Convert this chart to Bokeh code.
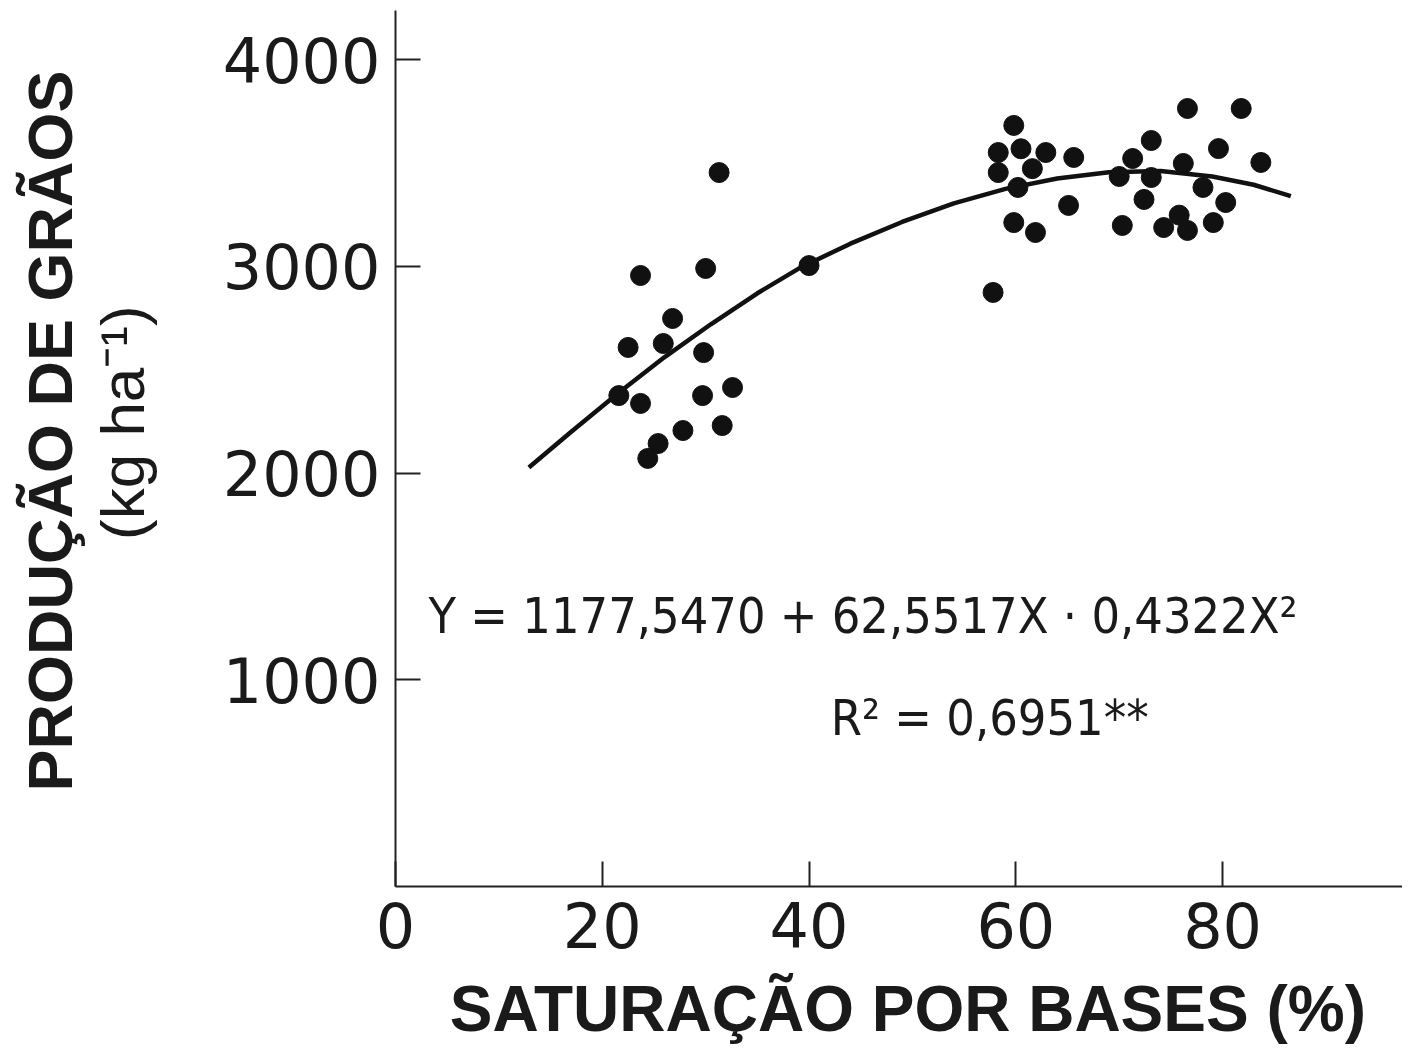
from bokeh.plotting import figure
from bokeh.models import Range1d, FixedTicker, LinearAxis, Label
from bokeh.embed import file_html
from bokeh.resources import INLINE

# ---- data ----
sat_pts = [31.3, 23.7, 30.0, 26.8, 22.5, 25.9, 29.8, 21.6, 23.7, 29.7, 32.6, 27.8, 31.6, 25.4, 24.4, 40.0,
           59.8, 58.3, 60.5, 62.9, 65.6, 58.3, 61.6, 60.2, 65.1, 59.8, 61.9, 57.8, 70.0, 70.3, 71.3,
           73.1, 73.1, 76.6, 81.8, 79.6, 76.2, 83.7, 72.4, 75.8, 78.1, 74.3, 76.6, 79.1, 80.3]
yield_pts = [3454, 2956, 2990, 2748, 2608, 2627, 2583, 2375, 2337, 2375, 2414, 2206, 2230, 2143, 2071, 3004,
             3682, 3551, 3569, 3551, 3527, 3454, 3473, 3382, 3295, 3212, 3164, 2874, 3435, 3198, 3522,
             3609, 3430, 3764, 3764, 3570, 3498, 3503, 3324, 3248, 3382, 3188, 3174, 3212, 3309]

curve_x = [12.9, 17.0, 21.5, 26.0, 30.5, 35.0, 39.2, 44.0, 49.0, 54.0, 59.0, 64.0, 69.0, 74.0, 79.0, 83.0, 86.6]
curve_y = [2027, 2200, 2385, 2560, 2720, 2870, 2995, 3110, 3215, 3305, 3375, 3425, 3455, 3462, 3435, 3395, 3340]

x_ticks = [0, 20, 40, 60, 80]
y_ticks = [1000, 2000, 3000, 4000]

eq_text = "Y = 1177,5470 + 62,5517X · 0,4322X²"
r2_text = "R² = 0,6951**"

x_label = "SATURAÇÃO POR BASES (%)"
y_label_1 = "PRODUÇÃO DE GRÃOS"
y_label_2 = "(kg ha⁻¹)"

NBSP = "\u00a0"
TICK_FONT = "DejaVu Sans"
BOLD_FONT = "Liberation Sans"
NARROW_FONT = "DejaVu Sans Condensed"
INK = "#1a1a1a"

p = figure(width=1402, height=1047, output_backend="svg", toolbar_location=None,
           x_range=Range1d(0, 97.4), y_range=Range1d(0, 4238),
           min_border_left=395, min_border_right=0, min_border_top=10, min_border_bottom=161)
p.outline_line_color = None
p.grid.visible = False
p.background_fill_color = "white"
p.border_fill_color = "white"

# x axis
xa = p.xaxis[0]
xa.ticker = FixedTicker(ticks=x_ticks)
xa.major_tick_in = 25
xa.major_tick_out = 0
xa.minor_tick_line_color = None
xa.axis_line_width = 2
xa.axis_line_color = "#222222"
xa.major_tick_line_width = 2
xa.major_tick_line_color = "#222222"
xa.major_label_text_font = TICK_FONT
xa.major_label_text_font_size = "62px"
xa.major_label_text_color = INK
xa.major_label_standoff = 15
xa.axis_label = NBSP + x_label
xa.axis_label_text_font = BOLD_FONT
xa.axis_label_text_font_style = "bold"
xa.axis_label_text_font_size = "64px"
xa.axis_label_text_color = INK
xa.axis_label_standoff = 22

# inner y axis
ya = p.yaxis[0]
ya.ticker = FixedTicker(ticks=y_ticks)
ya.major_tick_in = 25
ya.major_tick_out = 0
ya.minor_tick_line_color = None
ya.axis_line_width = 2
ya.axis_line_color = "#222222"
ya.major_tick_line_width = 2
ya.major_tick_line_color = "#222222"
ya.major_label_text_font = TICK_FONT
ya.major_label_text_font_size = "62px"
ya.major_label_text_color = INK
ya.major_label_standoff = 15
ya.axis_label = NBSP * 3 + y_label_2
ya.axis_label_text_font = BOLD_FONT
ya.axis_label_text_font_style = "normal"
ya.axis_label_text_font_size = "62px"
ya.axis_label_text_color = INK
ya.axis_label_standoff = 63

# outer y axis only for the first title line
ya2 = LinearAxis(ticker=FixedTicker(ticks=[]), axis_line_color=None,
                 major_tick_line_color=None, minor_tick_line_color=None,
                 major_label_standoff=0, major_tick_in=0, major_tick_out=0,
                 axis_label=NBSP * 2 + y_label_1, axis_label_text_font=BOLD_FONT,
                 axis_label_text_font_style="bold", axis_label_text_font_size="63px",
                 axis_label_text_color=INK, axis_label_standoff=0)
p.add_layout(ya2, "left")

# fitted curve and points
p.line(curve_x, curve_y, line_width=4.5, line_color="#111111")
p.scatter(sat_pts, yield_pts, size=20, fill_color="#111111", line_color="#111111")

p.add_layout(Label(x=3.2, y=1311, text=eq_text, text_font=NARROW_FONT,
                   text_font_size="50px", text_color=INK, text_baseline="alphabetic"))
p.add_layout(Label(x=42.1, y=815, text=r2_text, text_font=NARROW_FONT,
                   text_font_size="50px", text_color=INK, text_baseline="alphabetic"))

open("out.html", "w").write(file_html(p, INLINE))
